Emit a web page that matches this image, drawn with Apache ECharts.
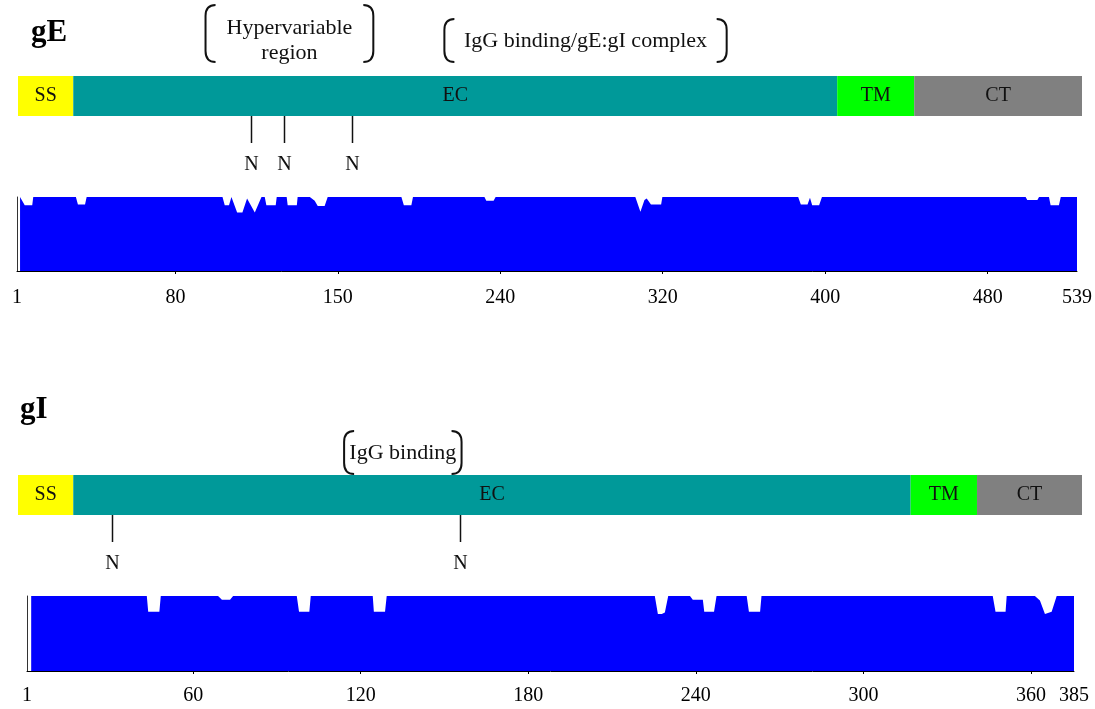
<!DOCTYPE html>
<html><head><meta charset="utf-8">
<script src="https://cdn.jsdelivr.net/npm/echarts@6/dist/echarts.min.js"></script>
<style>html,body{margin:0;padding:0;background:#fff}#c{width:1095px;height:709px}</style>
</head><body><div id="c"></div>
<script>
// ---------- gE ----------
const gEDomainNames  = ['SS', 'EC', 'TM', 'CT'];
const gEDomainStarts = [0, 28, 415, 454];
const gEDomainEnds   = [28, 415, 454, 539];
const gENSites = [118, 135, 169];
const gEBracketStarts = [95, 216];
const gEBracketEnds   = [180, 359];
const gEBracketLabels = ['Hypervariable\nregion', 'IgG binding/gE:gI complex'];
const gETickCols   = [2, 80, 160, 240, 320, 400, 480, 524];
const gETickLabels = ['1', '80', '150', '240', '320', '400', '480', '539'];
const gEConsCols = [3.5, 5.8, 9.5, 10, 31, 32, 35.5, 36.3, 103.2, 104.3, 106.4, 107.6, 108.4, 110.4, 113.0, 115.3, 119.1, 122.4,
  124, 124.8, 129.4, 129.9, 134.8, 135.3, 139.8, 140.2, 146.2, 148.6, 150.1, 153.5, 155, 191.3, 192.5, 196.2, 197,
  232.2, 233.1, 236.7, 237.7, 306.5, 309, 311, 312.1, 314.2, 319.2, 319.8, 386.7, 388, 391.3, 392.5, 393.6, 397, 398.4,
  498.7, 499.5, 504.5, 505.3, 510.2, 511, 515.1, 516, 524];
const gEConsValues = [100, 89, 89, 100, 100, 90, 90, 100, 100, 89, 89, 100, 100, 79, 79, 98, 79, 100,
  100, 89, 89, 100, 100, 89, 89, 100, 100, 95, 88, 88, 100, 100, 89, 89, 100,
  100, 95, 95, 100, 100, 80, 96, 98, 90, 90, 100, 100, 90, 90, 99, 89, 89, 100,
  100, 96, 96, 100, 100, 89, 89, 100, 100];

// ---------- gI ----------
const gIDomainNames  = ['SS', 'EC', 'TM', 'CT'];
const gIDomainStarts = [0, 20, 323, 347];
const gIDomainEnds   = [20, 323, 347, 385];
const gINSites = [34, 160];
const gIBracketStarts = [118];
const gIBracketEnds   = [160.5];
const gIBracketLabels = ['IgG binding'];
const gITickCols   = [0.5, 60, 120, 180, 240, 300, 360, 375.4];
const gITickLabels = ['1', '60', '120', '180', '240', '300', '360', '385'];
const gIConsCols = [2, 43.4, 43.9, 47.9, 48.4, 68.9, 70.3, 73.2, 74.3, 97.1, 97.9, 101.6, 102.1, 124.3, 124.7, 128.7, 129.3,
  225.3, 226.4, 227.8, 228.9, 230.1, 237.9, 238.9, 242.5, 243, 246.5, 247.4, 258.2, 259, 263, 263.5,
  346.3, 347.3, 350.9, 351.3, 361.4, 363.2, 365, 367.4, 369.2, 375.4];
const gIConsValues = [100, 100, 79, 79, 100, 100, 95, 95, 100, 100, 79, 79, 100, 100, 79, 79, 100,
  100, 76, 76, 78, 100, 100, 95, 95, 79, 79, 100, 100, 79, 79, 100,
  100, 79, 79, 100, 100, 94, 76, 79, 100, 100];

// ---------- styling ----------
const SERIF = "'Liberation Serif', 'Times New Roman', serif";
const DOMAIN_COLORS = { SS: '#ffff00', EC: '#009999', TM: '#00ff00', CT: '#808080' };
const BLUE = '#0000ff';

function zip(a, b) { return a.map((v, i) => [v, b[i]]); }

function domainSeries(idx, names, starts, ends) {
  return {
    type: 'custom', xAxisIndex: idx, yAxisIndex: idx, z: 3,
    data: names.map((n, i) => [starts[i], ends[i]]),
    renderItem: (params, api) => {
      const p0 = api.coord([api.value(0), 1]);
      const p1 = api.coord([api.value(1), 0]);
      const name = names[params.dataIndex];
      return {
        type: 'group', children: [
          { type: 'rect', shape: { x: p0[0], y: p0[1], width: p1[0] - p0[0], height: p1[1] - p0[1] },
            style: { fill: DOMAIN_COLORS[name] } },
          { type: 'text', x: (p0[0] + p1[0]) / 2, y: (p0[1] + p1[1]) / 2,
            style: { text: name, fill: '#111', font: '20px ' + SERIF, align: 'center', verticalAlign: 'middle' } }
        ]
      };
    }
  };
}

function nSiteSeries(idx, sites) {
  return {
    type: 'custom', xAxisIndex: idx, yAxisIndex: idx, z: 3, clip: false,
    data: sites.map(s => [s]),
    renderItem: (params, api) => {
      const x = Math.round(api.coord([api.value(0), 0])[0]) + 0.5;
      const yb = params.coordSys.y + params.coordSys.height;
      return {
        type: 'group', children: [
          { type: 'line', shape: { x1: x, y1: yb, x2: x, y2: yb + 27 }, style: { stroke: '#111', lineWidth: 1.5 } },
          { type: 'text', x: x, y: yb + 49,
            style: { text: 'N', fill: '#111', font: '20px ' + SERIF, align: 'center', verticalAlign: 'middle' } }
        ]
      };
    }
  };
}

function bracketSeries(idx, starts, ends, labels, gap) {
  return {
    type: 'custom', xAxisIndex: idx, yAxisIndex: idx, z: 3, clip: false,
    data: starts.map((s, i) => [s, ends[i]]),
    renderItem: (params, api) => {
      const label = labels[params.dataIndex];
      const lines = label.split('\n').length;
      const x1 = api.coord([api.value(0), 0])[0];
      const x2 = api.coord([api.value(1), 0])[0];
      const bottom = params.coordSys.y - gap;
      const top = bottom - (lines === 2 ? 57 : 43);
      const w = 10, r = 11;
      const lp = `M${x1 + w},${top} Q${x1},${top} ${x1},${top + r} L${x1},${bottom - r} Q${x1},${bottom} ${x1 + w},${bottom}`;
      const rp = `M${x2 - w},${top} Q${x2},${top} ${x2},${top + r} L${x2},${bottom - r} Q${x2},${bottom} ${x2 - w},${bottom}`;
      return {
        type: 'group', children: [
          { type: 'path', shape: { pathData: lp }, style: { stroke: '#111', lineWidth: 2, fill: null } },
          { type: 'path', shape: { pathData: rp }, style: { stroke: '#111', lineWidth: 2, fill: null } },
          { type: 'text', x: (x1 + x2) / 2, y: bottom - 21,
            style: { text: label, fill: '#111', font: '22px ' + SERIF, lineHeight: 25, align: 'center', verticalAlign: 'middle' } }
        ]
      };
    }
  };
}

function consXAxis(idx, cols, labels, margin) {
  const ticks = cols.slice(1, -1);
  return {
    type: 'value', gridIndex: idx, min: cols[0], max: cols[cols.length - 1], z: 10,
    axisLine: { show: true, onZero: false, lineStyle: { color: '#000', width: 1 } },
    axisTick: { show: true, customValues: ticks, length: 3, lineStyle: { color: '#000' } },
    axisLabel: { customValues: cols, margin: margin, color: '#000', fontSize: 20, fontFamily: SERIF,
      formatter: v => labels[cols.indexOf(v)] },
    splitLine: { show: false }
  };
}
function consYAxis(idx) {
  return {
    type: 'value', gridIndex: idx, min: 0, max: 100, z: 10,
    axisLine: { show: true, lineStyle: { color: '#333', width: 1 } },
    axisTick: { show: false }, axisLabel: { show: false }, splitLine: { show: false }
  };
}
function hiddenX(idx, max) { return { type: 'value', gridIndex: idx, min: 0, max: max, show: false }; }
function hiddenY(idx) { return { type: 'value', gridIndex: idx, min: 0, max: 1, show: false }; }

function consSeries(xi, cols, vals) {
  return {
    type: 'line', xAxisIndex: xi, yAxisIndex: xi, data: zip(cols, vals),
    showSymbol: false, symbol: 'none', lineStyle: { width: 0 },
    areaStyle: { color: BLUE, opacity: 1 }, itemStyle: { color: BLUE }, animation: false
  };
}

const chart = echarts.init(document.getElementById('c'), null, { renderer: 'canvas' });
chart.setOption({
  animation: false,
  backgroundColor: '#fff',
  grid: [
    { left: 18, top: 76, width: 1064, height: 40 },   // gE domains
    { left: 17, top: 197, width: 1061, height: 74 },  // gE conservation
    { left: 18, top: 475, width: 1064, height: 40 },  // gI domains
    { left: 27, top: 596, width: 1047, height: 75 }   // gI conservation
  ],
  xAxis: [
    hiddenX(0, gEDomainEnds[gEDomainEnds.length - 1]),
    consXAxis(1, gETickCols, gETickLabels, 17),
    hiddenX(2, gIDomainEnds[gIDomainEnds.length - 1]),
    consXAxis(3, gITickCols, gITickLabels, 15)
  ],
  yAxis: [hiddenY(0), consYAxis(1), hiddenY(2), consYAxis(3)],
  graphic: [
    { type: 'text', left: 31, top: 17, style: { text: 'gE', fill: '#000', font: 'bold 31px ' + SERIF } },
    { type: 'text', left: 20, top: 394, style: { text: 'gI', fill: '#000', font: 'bold 31px ' + SERIF } }
  ],
  series: [
    domainSeries(0, gEDomainNames, gEDomainStarts, gEDomainEnds),
    nSiteSeries(0, gENSites),
    bracketSeries(0, gEBracketStarts, gEBracketEnds, gEBracketLabels, 14),
    consSeries(1, gEConsCols, gEConsValues),
    domainSeries(2, gIDomainNames, gIDomainStarts, gIDomainEnds),
    nSiteSeries(2, gINSites),
    bracketSeries(2, gIBracketStarts, gIBracketEnds, gIBracketLabels, 1),
    consSeries(3, gIConsCols, gIConsValues)
  ]
});
</script></body></html>
